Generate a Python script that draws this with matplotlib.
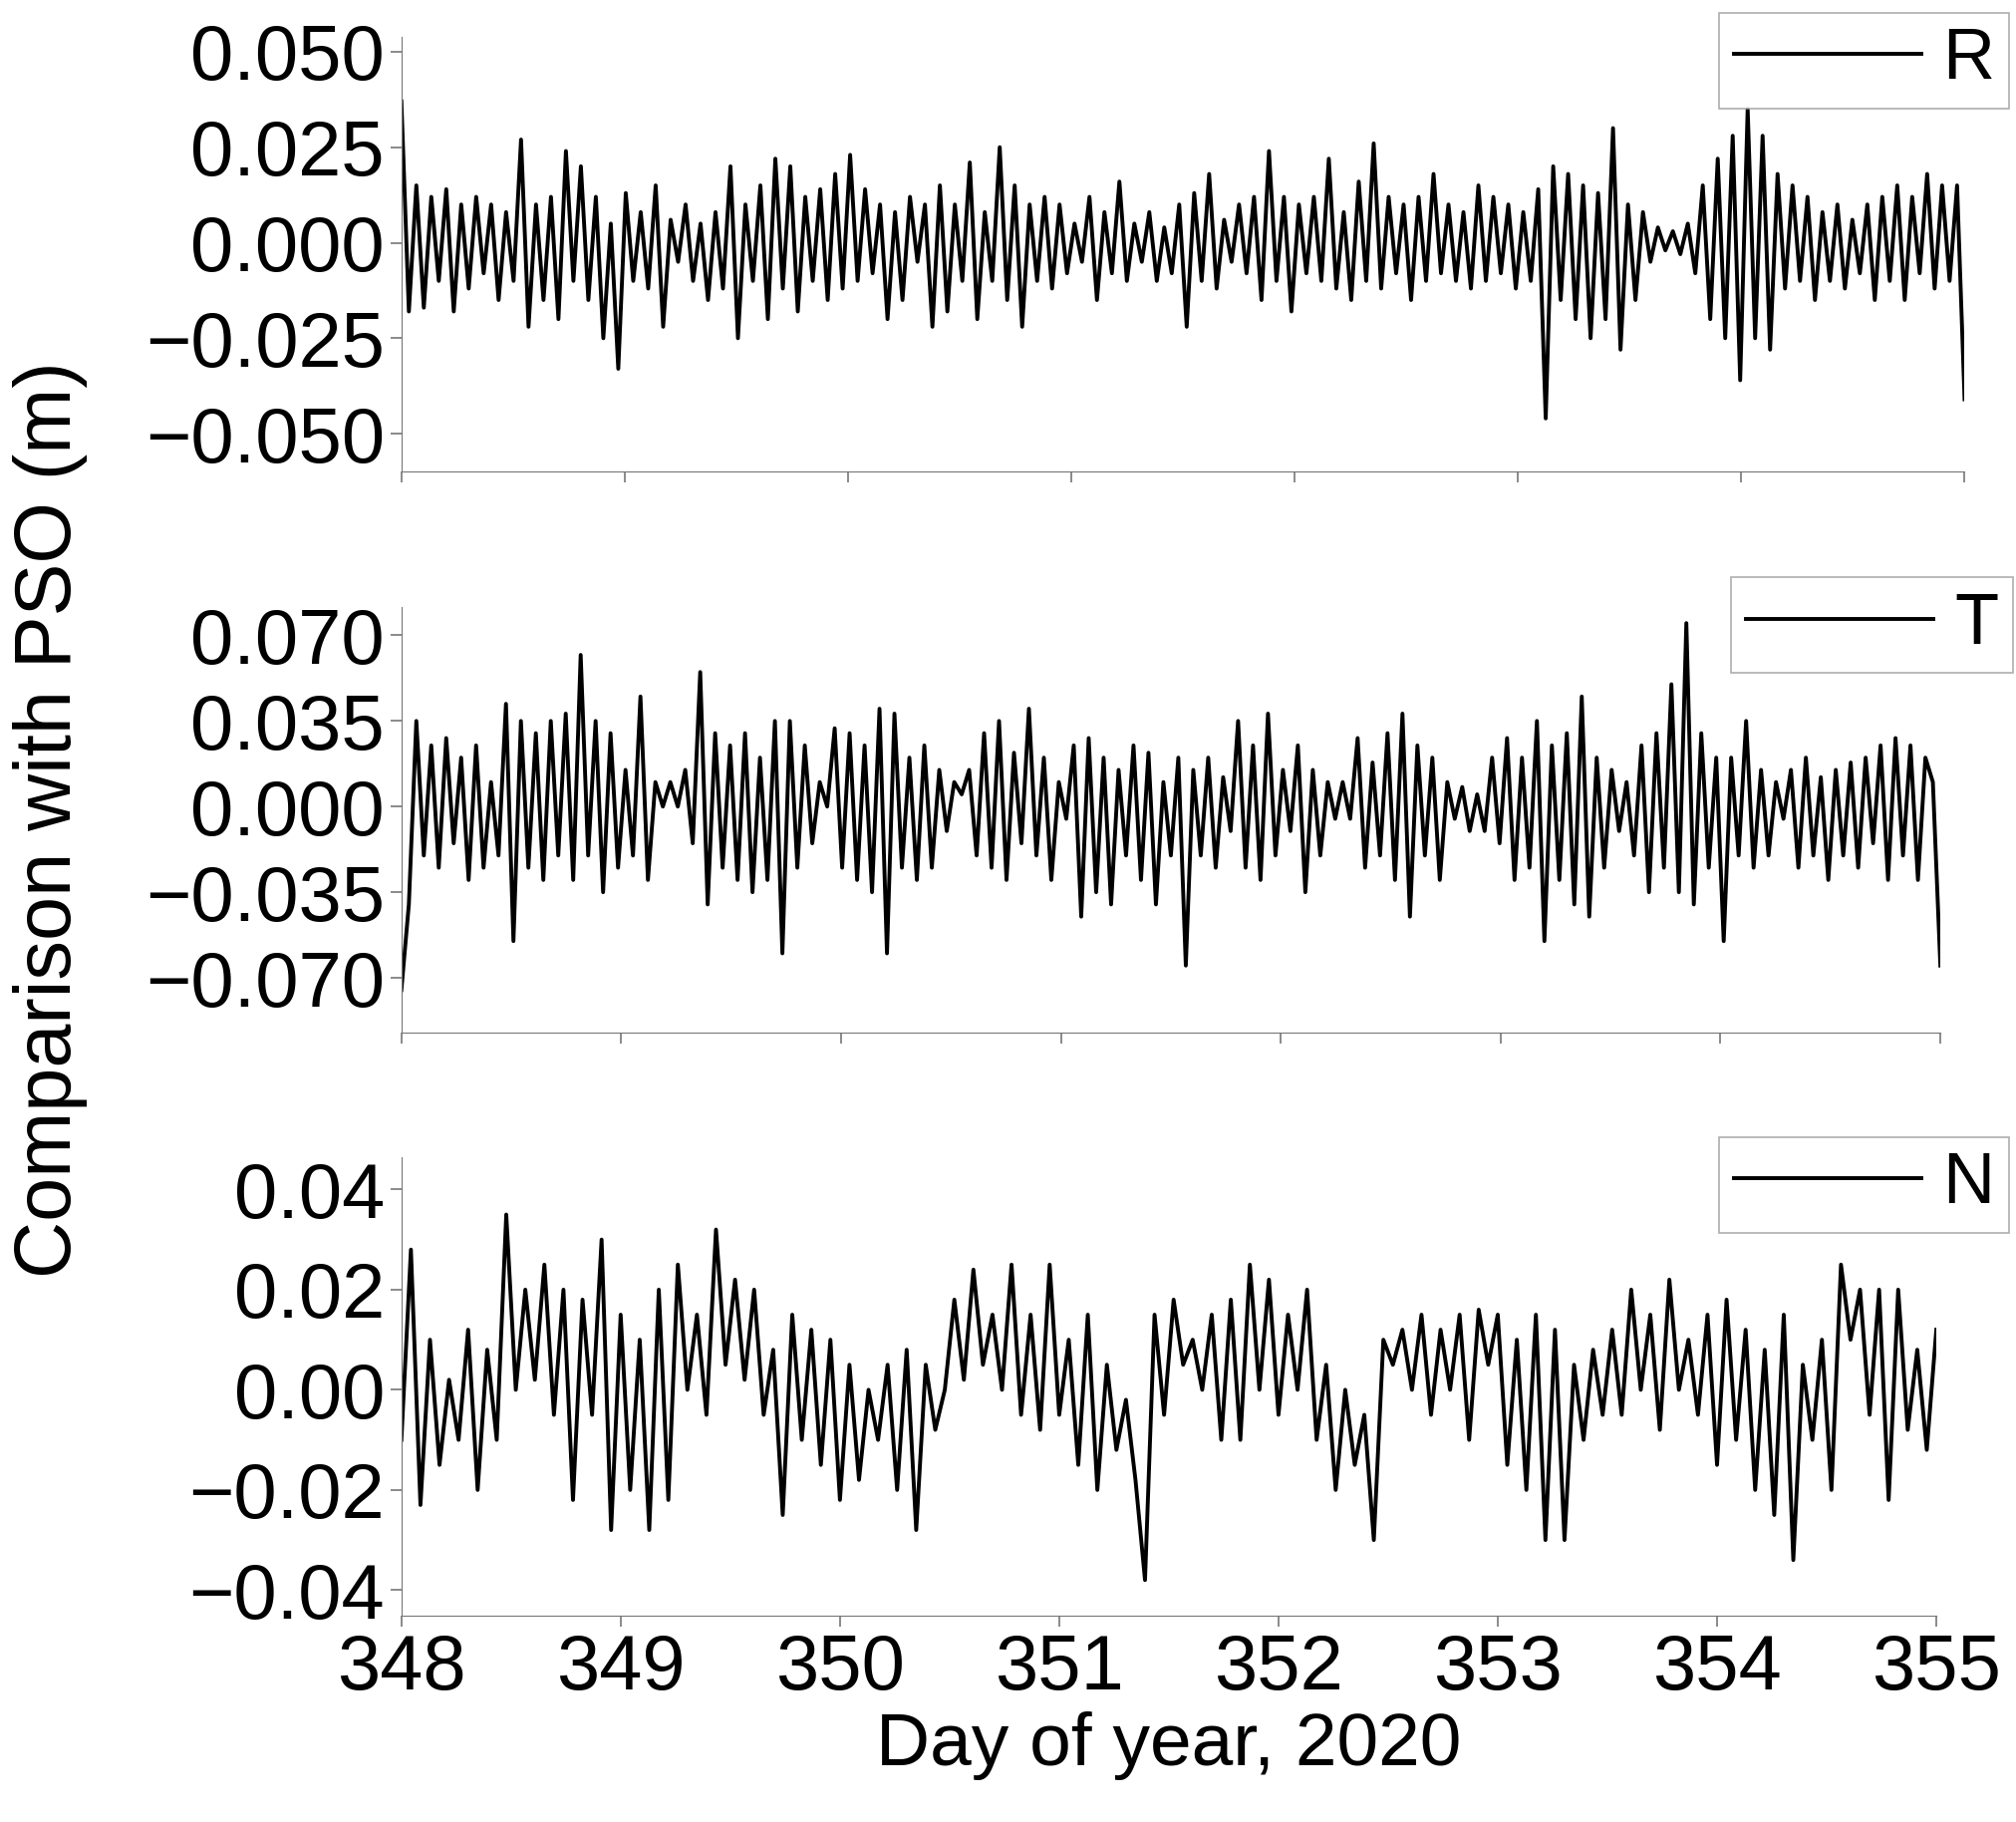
import numpy as np
import matplotlib.pyplot as plt

plt.rcParams['font.family'] = ['Liberation Sans', 'DejaVu Sans']

# extrema, mm
r_mm = [37, -18, 15, -17, 12, -10, 14, -18, 10, -12, 12, -8, 10, -15, 8, -10, 27, -22, 10, -15,
        12, -20, 24, -10, 20, -15, 12, -25, 5, -33, 13, -10, 8, -12, 15, -22, 6, -5, 10, -10,
        5, -15, 8, -12, 20, -25, 10, -10, 15, -20, 22, -12, 20, -18, 12, -10, 14, -15, 18, -12,
        23, -10, 14, -8, 10, -20, 8, -15, 12, -5, 10, -22, 15, -18, 10, -10, 21, -20, 8, -10,
        25, -15, 15, -22, 10, -10, 12, -12, 10, -8, 5, -5, 12, -15, 8, -8, 16, -10, 5, -5,
        8, -10, 4, -8, 10, -22, 13, -10, 18, -12, 6, -5, 10, -8, 12, -15, 24, -10, 12, -18,
        10, -8, 12, -10, 22, -12, 8, -15, 16, -10, 26, -12, 12, -8, 10, -15, 12, -10, 18, -8,
        10, -10, 8, -12, 15, -10, 12, -8, 10, -12, 8, -10, 14, -46, 20, -15, 18, -20, 15, -25,
        13, -20, 30, -28, 10, -15, 8, -5, 4, -2, 3, -3, 5, -8, 15, -20, 22, -25, 28, -36,
        35, -25, 28, -28, 18, -12, 15, -10, 12, -15, 8, -10, 10, -12, 6, -8, 10, -15, 12, -10,
        15, -15, 12, -8, 18, -12, 15, -10, 15, -41]
t_mm = [-75, -40, 35, -20, 25, -25, 28, -15, 20, -30, 25, -25, 10, -20, 42, -55, 35, -25, 30, -30,
        35, -20, 38, -30, 62, -20, 35, -35, 30, -25, 15, -20, 45, -30, 10, 0, 10, 0, 15, -15,
        55, -40, 30, -25, 25, -30, 30, -35, 20, -30, 35, -60, 35, -25, 25, -15, 10, 0, 32, -25,
        30, -30, 25, -35, 40, -60, 38, -25, 20, -30, 25, -25, 15, -10, 10, 5, 15, -20, 30, -25,
        35, -30, 22, -15, 40, -20, 20, -30, 10, -5, 25, -45, 28, -35, 20, -40, 15, -20, 25, -30,
        22, -40, 10, -20, 20, -65, 15, -20, 20, -25, 12, -10, 35, -25, 25, -30, 38, -20, 15, -10,
        25, -35, 15, -20, 10, -5, 10, -5, 28, -25, 18, -20, 30, -30, 38, -45, 25, -20, 20, -30,
        10, -5, 8, -10, 5, -10, 20, -15, 28, -30, 20, -25, 35, -55, 25, -30, 30, -40, 45, -45,
        20, -25, 15, -10, 10, -20, 25, -35, 30, -25, 50, -35, 75, -40, 30, -25, 20, -55, 20, -20,
        35, -25, 15, -20, 10, -5, 15, -25, 20, -20, 12, -30, 15, -20, 18, -25, 20, -15, 25, -30,
        28, -20, 25, -30, 20, 10, -65]
n_mm = [-10, 28, -23, 10, -15, 2, -10, 12, -20, 8, -10, 35, 0, 20, 2, 25, -5, 20, -22, 18,
        -5, 30, -28, 15, -20, 10, -28, 20, -22, 25, 0, 15, -5, 32, 5, 22, 2, 20, -5, 8,
        -25, 15, -10, 12, -15, 10, -22, 5, -18, 0, -10, 5, -20, 8, -28, 5, -8, 0, 18, 2,
        24, 5, 15, 0, 25, -5, 15, -8, 25, -5, 10, -15, 15, -20, 5, -12, -2, -18, -38, 15,
        -5, 18, 5, 10, 0, 15, -10, 18, -10, 25, 0, 22, -5, 15, 0, 20, -10, 5, -20, 0,
        -15, -5, -30, 10, 5, 12, 0, 15, -5, 12, 0, 15, -10, 16, 5, 15, -15, 10, -20, 15,
        -30, 12, -30, 5, -10, 8, -5, 12, -5, 20, 0, 15, -8, 22, 0, 10, -5, 15, -15, 18,
        -10, 12, -20, 8, -25, 15, -34, 5, -10, 10, -20, 25, 10, 20, -5, 20, -22, 20, -8, 8, -12, 12]

series = [np.array(r_mm) / 1000, np.array(t_mm) / 1000, np.array(n_mm) / 1000]
labels = ['R', 'T', 'N']
yticks = [[-0.05, -0.025, 0, 0.025, 0.05], [-0.07, -0.035, 0, 0.035, 0.07], [-0.04, -0.02, 0, 0.02, 0.04]]
yfmt = ['{:.3f}', '{:.3f}', '{:.2f}']
ylims = [(-0.060, 0.054), (-0.0926, 0.0817), (-0.0452, 0.0465)]
# axes boxes in figure fractions
boxes = [(0.199, 0.741, 0.775, 0.239), (0.199, 0.433, 0.763, 0.234), (0.199, 0.113, 0.761, 0.252)]
leg_pos = [(0.996, 0.993), (0.998, 0.683), (0.996, 0.376)]

fig = plt.figure(figsize=(20.24, 18.28), dpi=100)
for i in range(3):
    ax = fig.add_axes(boxes[i])
    y = series[i]
    x = np.linspace(348, 355, len(y))
    ax.plot(x, y, color='black', lw=2.8, label=labels[i])
    ax.set_xlim(348, 355)
    ax.set_ylim(*ylims[i])
    ax.set_yticks(yticks[i])
    ax.set_yticklabels([yfmt[i].format(v).replace('-', '\u2212') for v in yticks[i]])
    ax.set_xticks(range(348, 356))
    for s in ['top', 'right']:
        ax.spines[s].set_visible(False)
    ax.spines['left'].set_color('#777777')
    ax.spines['bottom'].set_color('#777777')
    ax.tick_params(direction='out', length=8, width=1.2, color='#777777', labelsize=56, pad=4)
    if i < 2:
        ax.set_xticklabels([])
    leg = ax.legend(loc='upper right', bbox_to_anchor=leg_pos[i], bbox_transform=fig.transFigure,
                    fontsize=52, handlelength=2.6, fancybox=False, edgecolor='#999999',
                    borderpad=0.2, borderaxespad=0, handletextpad=0.3)
    leg.get_frame().set_linewidth(1.2)
    if i == 2:
        ax.set_xlabel('Day of year, 2020', fontsize=54, labelpad=4)
fig.text(0.025, 0.55, 'Comparison with PSO (m)', rotation=90, fontsize=57, va='center', ha='center')
fig.savefig('out.png', dpi=100)
